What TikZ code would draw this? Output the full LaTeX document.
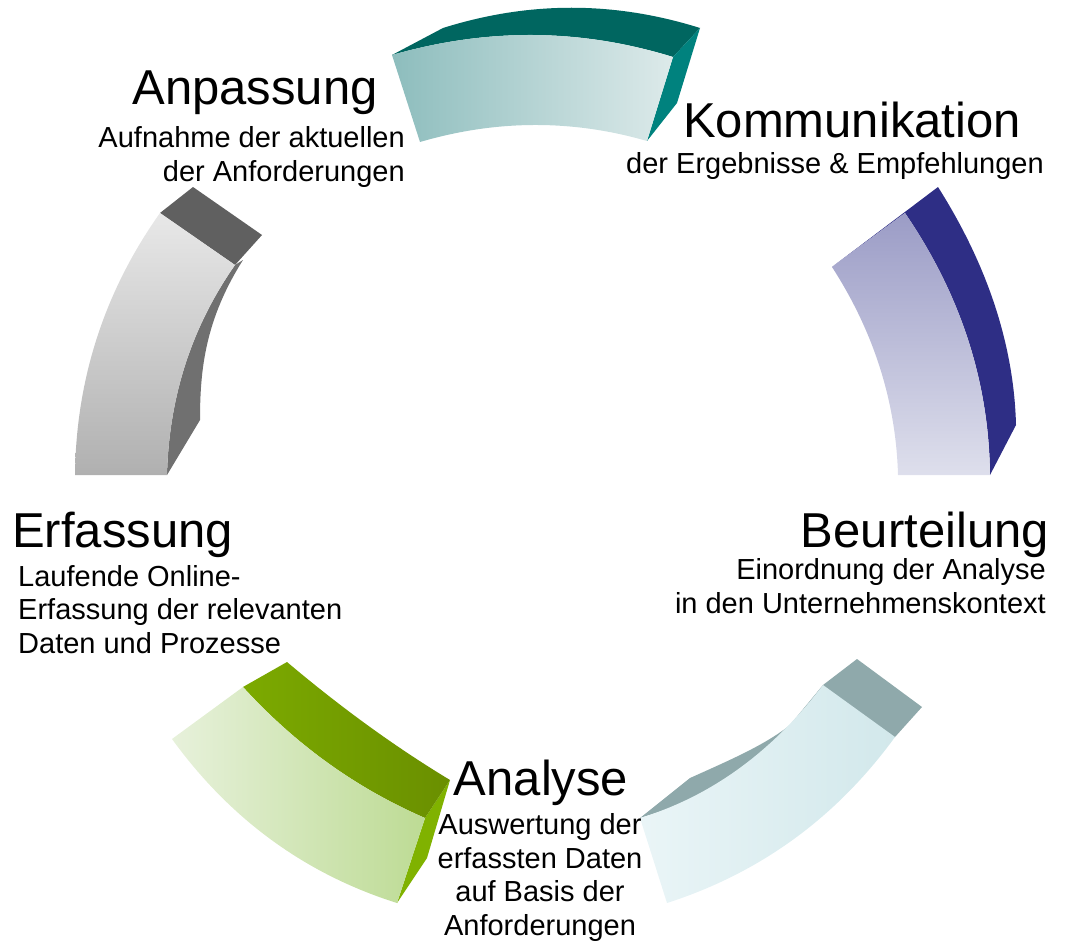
\documentclass[tikz,border=0pt]{standalone}
\usepackage{fontspec}
\setmainfont{Liberation Sans}
\definecolor{tealdark}{RGB}{0,102,96}
\definecolor{tealside}{RGB}{0,130,126}
\definecolor{teallight}{RGB}{141,189,189}
\definecolor{tealpale}{RGB}{221,234,234}
\definecolor{navyside}{RGB}{46,46,133}
\definecolor{navylight}{RGB}{155,156,198}
\definecolor{navypale}{RGB}{222,223,236}
\definecolor{cyancap}{RGB}{143,169,171}
\definecolor{cyanpale}{RGB}{234,245,247}
\definecolor{cyanlight}{RGB}{210,232,235}
\definecolor{greenside}{RGB}{128,178,0}
\definecolor{greentop}{RGB}{124,170,0}
\definecolor{greendark}{RGB}{106,143,0}
\definecolor{greenpale}{RGB}{231,241,219}
\definecolor{greenlight}{RGB}{189,219,148}
\definecolor{graycap}{RGB}{96,96,96}
\definecolor{grayside}{RGB}{112,112,112}
\definecolor{graypale}{RGB}{232,232,232}
\definecolor{graylight}{RGB}{176,176,176}

\begin{document}
\begin{tikzpicture}[x=1pt, y=-1pt,
    phasetitle/.style={font=\fontsize{49}{55}\selectfont, inner sep=0pt},
    phasetext/.style={font=\fontsize{29}{33.5}\selectfont, inner sep=0pt}]
  \useasboundingbox (0,0) rectangle (1068,947);
  % Ring of six 3D segments, coordinates in pixels
  % Top segment (teal): back face, side face, front face
  \fill[tealdark] (392,55) -- (443,28) .. controls (529,1) and (614,1) .. (700,28) -- (673,57)
    .. controls (579,28) and (486,28) .. (392,55) -- cycle;
  \fill[tealside] (673,57) -- (700,28) -- (677,103) -- (647,141) -- cycle;
  \shade[left color=teallight, right color=tealpale] (392,55) .. controls (486,28) and (579,28) .. (673,57)
    -- (647,141) .. controls (571,119) and (495,120) .. (420,142) -- cycle;

  % Right segment (navy)
  \fill[navyside] (832,267) -- (938,187) .. controls (988,266) and (1014,346) .. (1016,425) -- (990,475)
    .. controls (989,382) and (961,295) .. (905,213) -- cycle;
  \shade[top color=navylight, bottom color=navypale] (832,267) -- (905,213)
    .. controls (961,295) and (989,382) .. (990,475) -- (898,475)
    .. controls (896,402) and (874,332) .. (832,267) -- cycle;

  % Bottom right segment (light cyan)
  \fill[cyancap] (640,818) -- (690,778) .. controls (730,760) and (765,745) .. (790,725) -- (823,685)
    -- (857,659) -- (922,707) -- (895,737) -- cycle;
  \shade[left color=cyanpale, right color=cyanlight] (640,818) .. controls (712,796) and (773,751) .. (823,685)
    -- (895,737) .. controls (836,818) and (760,873) .. (667,903) -- cycle;

  % Bottom left segment (green)
  \fill[greenside] (425,818) -- (450,780) -- (427,858) -- (397,903) -- cycle;
  \shade[left color=greentop, right color=greendark] (243,687) -- (287,662)
    .. controls (338,705) and (392,745) .. (450,780) -- (425,818)
    .. controls (356,788) and (296,745) .. (243,687) -- cycle;
  \shade[left color=greenpale, right color=greenlight] (172,739) -- (243,687)
    .. controls (296,745) and (356,788) .. (425,818) -- (397,903)
    .. controls (305,874) and (230,819) .. (172,739) -- cycle;

  % Left segment (gray)
  \fill[grayside] (235,265) -- (243,260) .. controls (205,320) and (200,370) .. (200,420)
    -- (167,475) .. controls (169,398) and (191,328) .. (235,265) -- cycle;
  \fill[graycap] (160,213) -- (193,187) -- (262,235) -- (235,265) -- cycle;
  \shade[top color=graypale, bottom color=graylight] (160,213) -- (235,265)
    .. controls (191,328) and (169,398) .. (167,475) -- (75,475)
    .. controls (76,380) and (104,292) .. (160,213) -- cycle;

  % Labels (multi-line texts sit on the baseline of their last line)
  \node[phasetitle, anchor=base] (anpassung) at (255,105) {Anpassung};
  \node[phasetext, anchor=base east, align=right] (anpassungtext) at (405,181)
    {Aufnahme der aktuellen\\der Anforderungen};
  \node[phasetitle, anchor=base] (kommunikation) at (852,138) {Kommunikation};
  \node[phasetext, anchor=base] (kommunikationtext) at (835,173)
    {der Ergebnisse \& Empfehlungen};
  \node[phasetitle, anchor=base east] (beurteilung) at (1049,547) {Beurteilung};
  \node[phasetext, anchor=base east, align=right] (beurteilungtext) at (1046,613)
    {Einordnung der Analyse\\in den Unternehmenskontext};
  \node[phasetitle, anchor=base west] (erfassung) at (12,547) {Erfassung};
  \node[phasetext, anchor=base west, align=left] (erfassungtext) at (18,653)
    {Laufende Online-\\Erfassung der relevanten\\Daten und Prozesse};
  \node[phasetitle, anchor=base] (analyse) at (541,795) {Analyse};
  \node[phasetext, anchor=base, align=center] (analysetext) at (540,935)
    {Auswertung der\\erfassten Daten\\auf Basis der\\Anforderungen};
\end{tikzpicture}
\end{document}
